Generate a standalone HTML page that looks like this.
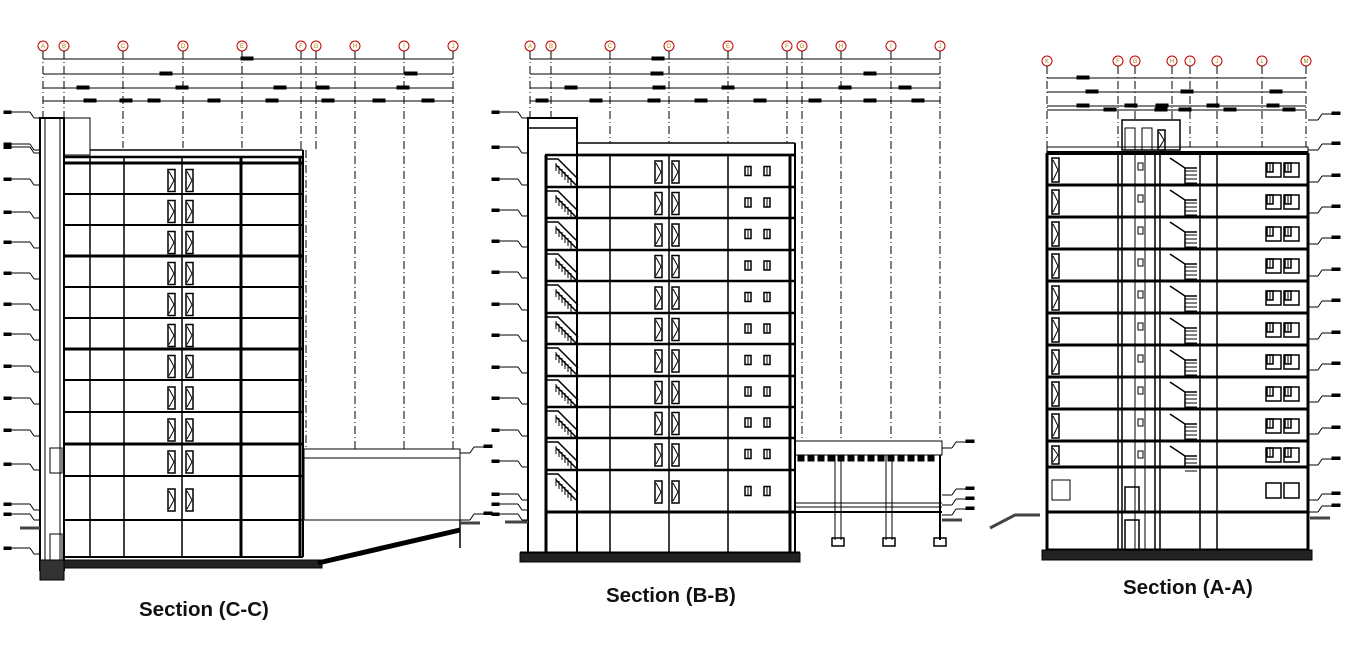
<!DOCTYPE html>
<html><head><meta charset="utf-8">
<style>
html,body{margin:0;padding:0;background:#fff;width:1355px;height:667px;overflow:hidden}
svg{position:absolute;left:0;top:0}
.t{position:absolute;font-family:"Liberation Sans",sans-serif;font-weight:bold;font-size:20.5px;color:#111;white-space:nowrap}
</style></head><body>
<svg id="s" width="1355" height="667" viewBox="0 0 1355 667" xmlns="http://www.w3.org/2000/svg">
<g id="g" stroke="#000" fill="none" stroke-width="1"></g>
<g id="lab" font-family="Liberation Sans, sans-serif" font-size="6" fill="#b08000" text-anchor="middle"></g>
</svg>
<div class="t" style="left:139px;top:598px">Section (C-C)</div>
<div class="t" style="left:606px;top:584px">Section (B-B)</div>
<div class="t" style="left:1123px;top:576px">Section (A-A)</div>
<script>
var g=document.getElementById('g'),lab=document.getElementById('lab'),h='',lh='';
function L(x1,y1,x2,y2,w,d){h+='<line x1="'+x1+'" y1="'+y1+'" x2="'+x2+'" y2="'+y2+'" stroke-width="'+(w||1)+'"'+(d?' stroke-dasharray="'+d+'"':'')+'/>';}
function R(x,y,w,hh,sw,f){h+='<rect x="'+x+'" y="'+y+'" width="'+w+'" height="'+hh+'" stroke-width="'+(sw||1)+'" fill="'+(f||'none')+'"/>';}
function C(x,y,t){h+='<circle cx="'+x+'" cy="'+y+'" r="5" stroke="#c00000" fill="#fff"/>';lh+='<text x="'+x+'" y="'+(y+2)+'">'+t+'</text>';}
function door(x,y,hh){R(x,y,7,hh,1.5);L(x+1,y+2,x+6,y+hh/2);L(x+6,y+hh/2,x+1,y+hh-2);}
function win(x,y){R(x,y,6,9,1.5);L(x+3,y,x+3,y+9);}
function grid(xs,letters,yc,ybots){for(var i=0;i<xs.length;i++){C(xs[i],yc,letters[i]);L(xs[i],yc+5,xs[i],ybots[i],1,'8 3 1 3');}}
function dims(x1,x2,ys,marks){ys.forEach(function(y,k){L(x1,y,x2,y,1);var m=marks[k];m.forEach(function(mx){R(mx-6,y-2,12,3,0,'#000');});});}
function levels(x,ys,side){ys.forEach(function(y){if(side<0){L(x-30,y-6,x-10,y-6);L(x-10,y-6,x-6,y);L(x-6,y,x,y);R(x-36,y-7,7,2.5,0,'#000');}else{L(x,y,x+10,y);L(x+10,y,x+14,y-6);L(x+14,y-6,x+30,y-6);R(x+24,y-8,8,2.5,0,'#000');}});}
// ---------- Section C-C
var cx=[43,64,123,183,242,301,316,355,404,453];
grid(cx,'ABCDEFGHIJ'.split(''),46,[118,118,148,148,148,150,150,449,449,449]);
L(306,150,306,449,1,'8 3 1 3');
dims(43,453,[59,74,88,101],[[247],[166,411],[83,182,280,323,403],[90,126,154,214,272,328,379,428]]);
R(40,118,24,452,2);L(45,118,45,560,1);L(60,118,60,560,1);
R(64,118,26,37,1);
var cyl=[163,194,225,256,287,318,349,380,412,444,476,520];
L(90,150,303,150,1.5);L(64,157,303,157,2.5);
cyl.forEach(function(y,i){L(64,y,303,y,(i%3==0)?3:2);});
L(64,557,303,557,2);
[90,124,182,241,300].forEach(function(x,i){L(x,157,x,557,i==3||i==4?3:1.5);});
L(303,150,303,557,2);
for(var i=0;i<cyl.length-1;i++){var y=cyl[i],hh=cyl[i+1]-y;var dh=Math.min(22,hh-8);door(168,y+(hh-dh)/2+2,dh);door(186,y+(hh-dh)/2+2,dh);}
R(50,448,12,25,1);R(50,534,12,28,1);
R(304,449,156,71,1);L(304,458,460,458,1);
R(62,560,260,8,0,'#222');L(318,563,460,530,5);L(460,520,460,548,1.5);
R(40,560,24,20,0,'#333');
h+='<path d="M20 528 H40 M460 523 H480" stroke="#444" stroke-width="3"/>';
levels(40,[118,150,153,185,218,248,279,310,340,372,404,436,470,510,520,554],-1);
levels(460,[453,520],1);
// ---------- Section B-B
var bx=[530,551,610,669,728,787,802,841,891,940];
grid(bx,'ABCDEFGHIJ'.split(''),46,[118,118,143,143,143,143,441,441,441,441]);
dims(530,940,[59,74,88,101],[[658],[657,870],[571,659,728,845,905],[542,596,654,701,760,815,870,918]]);
R(528,118,49,437,2);R(528,118,49,10,1.5);
var by=[155,187,218,250,281,313,344,376,407,438,470,512];
L(577,143,795,143,1.5);L(577,155,795,155,2.5);
by.forEach(function(y){L(545,y,795,y,y==512?3:2.5);});
L(520,553,800,553,3);R(520,553,280,9,0,'#222');
[577,610,669,728,790].forEach(function(x,i){L(x,155,x,553,i==4?3:1.5);});
L(795,143,795,553,2);L(546,155,546,553,3);
for(var i=0;i<by.length-1;i++){var y=by[i],hh=by[i+1]-y;var dh=Math.min(22,hh-8);door(655,y+(hh-dh)/2+1,dh);door(672,y+(hh-dh)/2+1,dh);win(745,y+(hh-9)/2);win(764,y+(hh-9)/2);
 var s=y+4;h+='<path d="M546 '+(s)+' l12 0 l20 20 M556 '+(s+6)+' l20 20" stroke-width="1.5"/>';for(var k=0;k<6;k++)L(556+k*3,s+4+k*3,556+k*3,s+12+k*3,1);}
R(795,441,147,14,1);for(var k=0;k<14;k++)R(798+k*10,455,6,6,0,'#000');
L(795,503,942,503,1);L(795,507,942,507,1);L(795,512,942,512,2);
[838,889].forEach(function(x){L(x-3,455,x-3,540,1);L(x+3,455,x+3,540,1);R(x-6,538,12,8,1.5);});L(940,455,940,540,2);R(934,538,12,8,1.5);
levels(528,[118,153,185,216,247,278,310,341,373,404,436,467,500,510,520],-1);
levels(942,[448,495,505,515],1);
h+='<path d="M505 522 H528 M942 520 H962" stroke="#444" stroke-width="3"/>';
// ---------- Section A-A
var ax=[1047,1118,1135,1172,1190,1217,1262,1306];
grid(ax,'KFGHIJLM'.split(''),61,[147,147,120,120,147,147,147,147]);
dims(1047,1306,[78,92,106,110],[[1083],[1092,1187,1276],[1083,1131,1162,1213,1273],[1110,1161,1185,1230,1289]]);
R(1047,147,261,6,1);R(1122,120,58,30,1.5);R(1125,128,10,22,1);R(1142,128,10,22,1);door(1158,130,20);
var ay=[153,185,217,249,281,313,345,377,409,441,467,512];
ay.forEach(function(y){L(1047,y,1308,y,y==153?4:3);});
L(1047,550,1308,550,3);R(1042,550,270,10,0,'#222');
L(1047,153,1047,550,3);L(1308,153,1308,550,3);
[1118,1122,1155,1160,1200,1217].forEach(function(x){L(x,153,x,550,1.5);});
L(1135,153,1135,550,1);L(1145,153,1145,550,1);
for(var i=0;i<ay.length-1;i++){var y=ay[i],hh=ay[i+1]-y;
 if(i<10){door(1052,y+5,hh-8);R(1138,y+10,5,7,1);win(1267,y+(hh-12)/2);win(1285,y+(hh-12)/2);R(1266,y+(hh-12)/2,15,14,1.5);R(1284,y+(hh-12)/2,15,14,1.5);
 h+='<path d="M1170 '+(y+5)+' l15 10 v'+(hh-15)+' M1185 '+(y+15)+' h12" stroke-width="1.5"/>';for(var k=1;k<5;k++)L(1185,y+14+k*4,1197,y+14+k*4,1);}}
R(1052,480,18,20,1);R(1125,487,14,25,1.5);R(1125,520,14,30,1.5);R(1266,483,15,15,1.5);R(1284,483,15,15,1.5);
levels(1308,[120,150,182,213,244,276,307,339,370,402,434,465,500,512],1);
h+='<path d="M990 528 L1015 515 H1040 M1310 518 H1330" stroke="#444" stroke-width="3"/>';
g.innerHTML=h;lab.innerHTML=lh;
</script>
</body></html>
